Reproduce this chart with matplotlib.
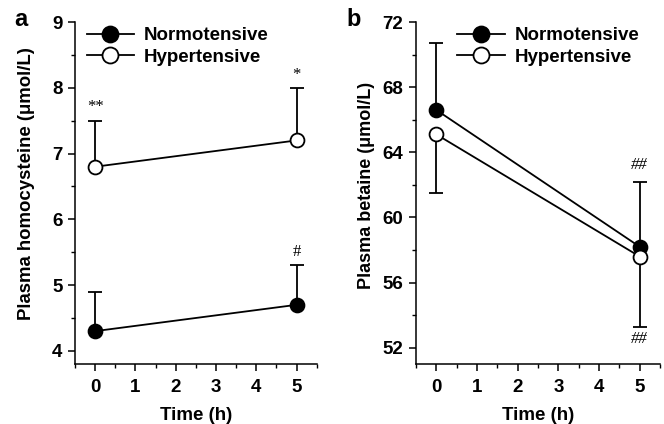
import matplotlib
matplotlib.use("Agg")
import matplotlib.pyplot as plt
from matplotlib.ticker import MultipleLocator

plt.rcParams['font.family'] = ['Liberation Sans', 'DejaVu Sans']
plt.rcParams['font.weight'] = 'bold'

time = [0, 5]
# Panel a: homocysteine
hcy_norm = [4.3, 4.7]
hcy_norm_up = [4.9, 5.3]
hcy_hyp = [6.8, 7.2]
hcy_hyp_up = [7.5, 8.0]
hcy_marks = [(0, 7.5, '**'), (5, 8.0, '*'), (5, 5.3, '#')]
# Panel b: betaine
bet_norm = [66.6, 58.2]
bet_norm_up = [70.7, 62.2]
bet_hyp = [65.1, 57.6]
bet_hyp_low = [61.5, 53.3]
xticks = [0, 1, 2, 3, 4, 5]

fig = plt.figure(figsize=(6.64, 4.24), dpi=100)
axa = fig.add_axes([0.113, 0.1415, 0.364, 0.8065])
axb = fig.add_axes([0.6265, 0.1415, 0.3675, 0.8065])

ms = 10
lw = 1.3

def style(ax):
    for s in ['top', 'right']:
        ax.spines[s].set_visible(False)
    for s in ['left', 'bottom']:
        ax.spines[s].set_linewidth(1.1)
    ax.tick_params(which='major', direction='out', length=5, width=1.1, labelsize=13.5)
    ax.tick_params(axis='x', which='major', pad=6)
    ax.tick_params(axis='y', which='major', pad=4)
    ax.tick_params(which='minor', direction='out', length=3, width=1.0)
    ax.set_xlim(-0.5, 5.5)
    ax.set_xticks(xticks)
    ax.xaxis.set_minor_locator(MultipleLocator(0.5))
    ax.set_xlabel('Time (h)', fontsize=13.5, fontweight='bold', labelpad=8)
    for lab in ax.get_xticklabels() + ax.get_yticklabels():
        lab.set_fontweight('bold')

leg_kw = dict(loc='upper left', frameon=False, handlelength=2.55, handletextpad=0.5,
              labelspacing=0.25, markerscale=1.15, prop={'weight': 'bold', 'size': 13.5})

# Panel a
for vals, up, face, lab in [(hcy_norm, hcy_norm_up, 'black', 'Normotensive'),
                            (hcy_hyp, hcy_hyp_up, 'white', 'Hypertensive')]:
    err = [[0, 0], [u - v for u, v in zip(up, vals)]]
    axa.errorbar(time, vals, yerr=err, fmt='none', ecolor='black', elinewidth=lw,
                 capsize=5, capthick=lw, zorder=1)
    axa.plot(time, vals, '-', color='black', lw=lw, marker='o', ms=ms,
             mfc=face, mec='black', mew=1.3, zorder=3, label=lab)
for x, y, t in hcy_marks:
    axa.text(x, y + 0.08, t, ha='center', va='bottom', fontsize=12,
             family='Liberation Serif', fontweight='normal')
axa.set_ylim(3.8, 9)
axa.yaxis.set_major_locator(MultipleLocator(1))
axa.yaxis.set_minor_locator(MultipleLocator(0.5))
axa.set_ylabel('Plasma homocysteine (μmol/L)', fontsize=13.4, fontweight='bold')
axa.yaxis.set_label_coords(-0.165, 0.528)
style(axa)
axa.legend(bbox_to_anchor=(-0.022, 1.035), **leg_kw)

# Panel b
err_n = [[0, 0], [u - v for u, v in zip(bet_norm_up, bet_norm)]]
err_h = [[v - l for v, l in zip(bet_hyp, bet_hyp_low)], [0, 0]]
axb.errorbar(time, bet_norm, yerr=err_n, fmt='none', ecolor='black', elinewidth=lw,
             capsize=5, capthick=lw, zorder=1)
axb.errorbar(time, bet_hyp, yerr=err_h, fmt='none', ecolor='black', elinewidth=lw,
             capsize=5, capthick=lw, zorder=1)
axb.plot(time, bet_norm, '-', color='black', lw=lw, marker='o', ms=ms,
         mfc='black', mec='black', mew=1.3, zorder=3, label='Normotensive')
axb.plot(time, bet_hyp, '-', color='black', lw=lw, marker='o', ms=ms,
         mfc='white', mec='black', mew=1.3, zorder=4, label='Hypertensive')
axb.text(5, bet_norm_up[1] + 0.5, '##', ha='center', va='bottom', fontsize=12,
         family='Liberation Serif', style='italic', fontweight='normal')
axb.text(5, bet_hyp_low[1] - 0.3, '##', ha='center', va='top', fontsize=12,
         family='Liberation Serif', style='italic', fontweight='normal')
axb.set_ylim(51, 72)
axb.yaxis.set_major_locator(MultipleLocator(4))
axb.yaxis.set_minor_locator(MultipleLocator(2))
axb.set_ylabel('Plasma betaine (μmol/L)', fontsize=13, fontweight='bold')
axb.yaxis.set_label_coords(-0.168, 0.523)
style(axb)
axb.legend(bbox_to_anchor=(0.1, 1.035), **leg_kw)

fig.text(0.022, 0.953, 'a', fontsize=17, fontweight='bold', va='center')
fig.text(0.522, 0.953, 'b', fontsize=17, fontweight='bold', va='center')

fig.savefig('out.png', dpi=100)
